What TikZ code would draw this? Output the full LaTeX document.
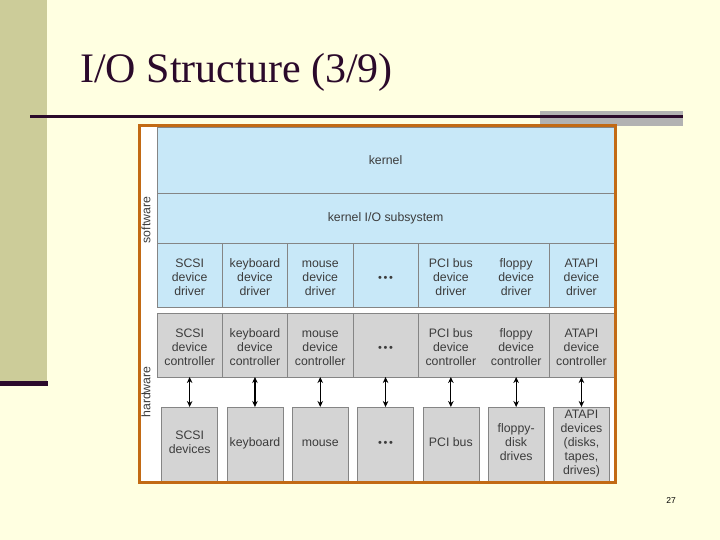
\documentclass[tikz,border=0pt]{standalone}
\usepackage{fontspec}
\setmainfont{Liberation Serif}
\newfontfamily\diagfont{Liberation Sans}
\usepackage{tikz}
\usetikzlibrary{arrows.meta,positioning}
\definecolor{slideyellow}{HTML}{FFFFE1}
\definecolor{barkhaki}{HTML}{CCCC99}
\definecolor{darkplum}{HTML}{2B0A2B}
\definecolor{bargray}{HTML}{B2B2B2}
\definecolor{framebrown}{HTML}{C26A14}
\definecolor{swblue}{HTML}{C8E8F8}
\definecolor{hwgray}{HTML}{D4D4D4}
\definecolor{edgegray}{HTML}{858585}
\definecolor{inkgray}{HTML}{3C3C3C}
\newcommand{\tripledot}{{\fontsize{11}{14}\selectfont\textbullet\hspace{1.6pt}\textbullet\hspace{1.6pt}\textbullet}}
\newcommand{\lowstrut}{\rule{0pt}{17.8pt}}
\tikzset{
cell/.style={minimum width=65.3pt,minimum height=64pt,inner sep=0pt,outer sep=0pt,align=center,
  font=\diagfont\fontsize{12.3}{14}\selectfont,text=inkgray},
swrow/.style={cell,minimum width=457.1pt,fill=swblue},
drvcell/.style={cell,fill=swblue},
ctlcell/.style={cell,fill=hwgray},
devbox/.style={cell,minimum width=56pt,minimum height=74pt,fill=hwgray,draw=edgegray,line width=0.6pt},
sep/.style={draw=edgegray,line width=0.6pt},
sidelabel/.style={rotate=90,font=\diagfont\fontsize{12.3}{14}\selectfont,text=inkgray}
}

\begin{document}
\begin{tikzpicture}[x=1pt,y=-1pt,>={Stealth[length=6pt,width=5.5pt]}]
\useasboundingbox(0,0)rectangle(720,540);
\fill[slideyellow](0,0)rectangle(720,540);
\fill[barkhaki](0,0)rectangle(47,383);
\fill[darkplum](0,381)rectangle(48,386);
\fill[bargray](540,111)rectangle(683,126);
\draw[darkplum,line width=3pt](30,117)--(683,117);
\node[anchor=base west,inner sep=0pt,text=darkplum,font=\fontsize{42}{46}\selectfont](title)at(80,83){I/O Structure (3/9)};
\fill[white](139,125)rectangle(616,483);

% software side
\node[swrow,minimum height=66pt](kernel)at(385.55,160){kernel};
\node[swrow,minimum height=50pt,below=0pt of kernel](iosys){kernel I/O subsystem};
\node[drvcell,anchor=north west](drv1)at(iosys.south west){\lowstrut SCSI\\device\\driver\strut};
\foreach \i/\j/\txt in {2/1/{keyboard\\device\\driver},3/2/{mouse\\device\\driver},4/3/\tripledot,
  5/4/{PCI bus\\device\\driver},6/5/{floppy\\device\\driver},7/6/{ATAPI\\device\\driver}}
  \node[drvcell,right=0pt of drv\j](drv\i){\lowstrut\txt\strut};
\draw[sep](kernel.north west)rectangle(drv7.south east);
\draw[sep](kernel.south west)--(kernel.south east)(iosys.south west)--(iosys.south east);
\foreach \i in {1,2,3,4,6}
  \draw[sep](drv\i.north east)--(drv\i.south east);

% hardware side
\node[ctlcell,anchor=north west](ctl1)at([yshift=-6pt]drv1.south west){\lowstrut SCSI\\device\\controller\strut};
\foreach \i/\j/\txt in {2/1/{keyboard\\device\\controller},3/2/{mouse\\device\\controller},4/3/\tripledot,
  5/4/{PCI bus\\device\\controller},6/5/{floppy\\device\\controller},7/6/{ATAPI\\device\\controller}}
  \node[ctlcell,right=0pt of ctl\j](ctl\i){\lowstrut\txt\strut};
\draw[sep](ctl1.north west)rectangle(ctl7.south east);
\foreach \i in {1,2,3,4,6}
  \draw[sep](ctl\i.north east)--(ctl\i.south east);

\foreach \i/\txt in {1/{SCSI\\devices},2/keyboard,3/mouse,4/\tripledot,5/PCI bus,
  6/{floppy-\\disk\\drives},7/{ATAPI\\devices\\(disks,\\tapes,\\drives)}}{
  \node[devbox,anchor=north](dev\i)at([yshift=-30pt]ctl\i.south){\strut\txt\strut};
  \draw[<->,line width=1.1pt](ctl\i.south)--(dev\i.north);
}

\node[sidelabel](swlabel)at(146,220){software};
\node[sidelabel](hwlabel)at(146,392){hardware};
\draw[framebrown,line width=3pt](139.5,125.5)rectangle(615.5,482.5);
\node[font=\diagfont\fontsize{8.5}{10}\selectfont](pagenum)at(671,501){27};
\end{tikzpicture}
\end{document}
